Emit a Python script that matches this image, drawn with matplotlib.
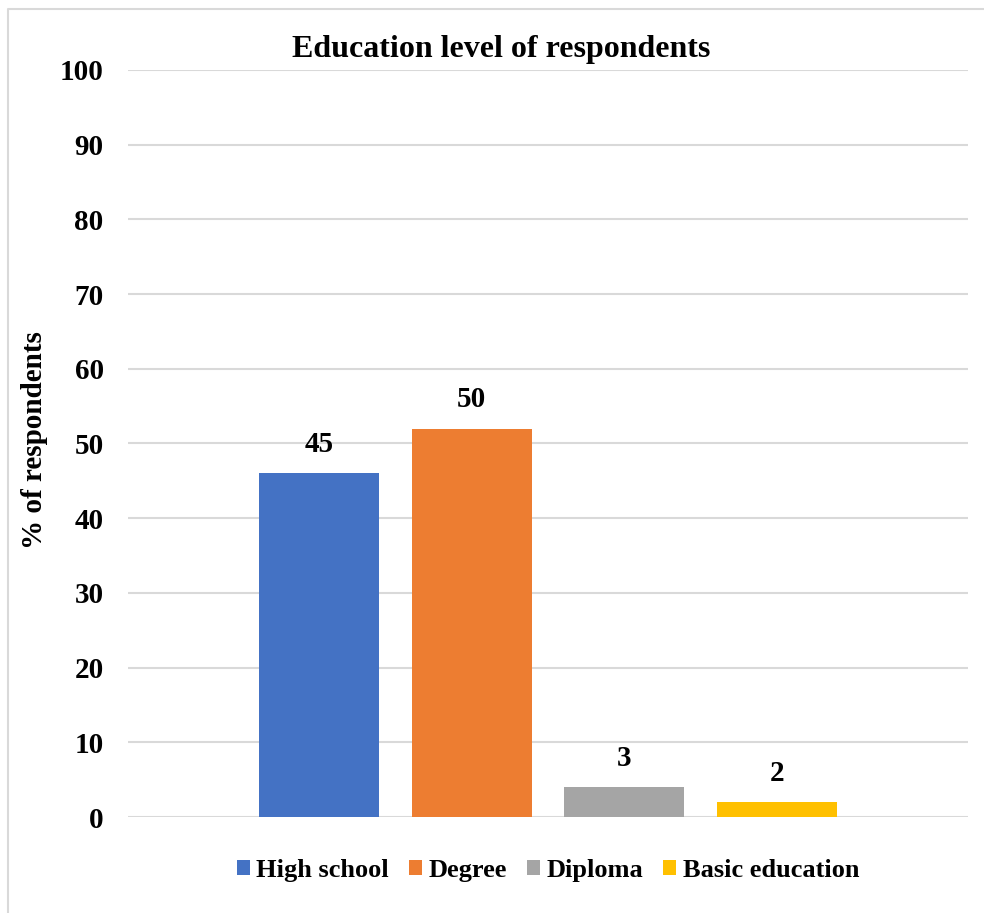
import matplotlib.pyplot as plt
from matplotlib.lines import Line2D

plt.rcParams['font.family'] = ['Liberation Serif', 'DejaVu Serif']
plt.rcParams['font.weight'] = 'bold'

# data
categories = ['High school', 'Degree', 'Diploma', 'Basic education']
bar_heights = [46, 52, 4, 2]
bar_labels = ['45', '50', '3', '2']
colors = ['#4472C4', '#ED7D31', '#A5A5A5', '#FFC000']
yticks = list(range(0, 101, 10))

fig = plt.figure(figsize=(9.84, 9.13), dpi=100)
ax = fig.add_axes([128/984, 1-817/913, 840/984, 747/913])

# light frame (only left and top edges show in the picture)
fig.lines.append(Line2D([8/984, 8/984, 1.0], [0.0, 1-9/913, 1-9/913], transform=fig.transFigure,
                        color='#d9d9d9', lw=1.5))

xs = range(len(categories))
for x, h, lab, c, name in zip(xs, bar_heights, bar_labels, colors, categories):
    ax.bar(x, h, width=0.787, color=c, label=name, zorder=3)
    ax.annotate(lab, (x, h), xytext=(0, 11), textcoords='offset points',
                ha='center', va='bottom', fontsize=21, fontweight='bold')

ax.set_xlim(-1.255, 4.255)
ax.set_ylim(0, 100)
ax.set_yticks(yticks)
ax.set_yticklabels([str(t) for t in yticks], fontsize=21, fontweight='bold')
ax.tick_params(axis='y', length=0, pad=17.5)
ax.set_xticks([])
ax.grid(axis='y', color='#d9d9d9', lw=1.5, zorder=0)
for s in ax.spines.values():
    s.set_visible(False)

ax.set_ylabel('% of respondents', fontsize=21, fontweight='bold')
ax.yaxis.set_label_coords(-0.095, 0.505)
fig.text(501/984, 1-50/913, 'Education level of respondents', ha='center', va='center',
         fontsize=23, fontweight='bold')

leg = ax.legend(loc='center', bbox_to_anchor=(0.5, -53/747), ncol=4, frameon=False,
                prop={'size': 19, 'weight': 'bold'}, handlelength=0.5, handleheight=0.5,
                handletextpad=0.25, columnspacing=0.75)

fig.savefig('out.png', dpi=100)
